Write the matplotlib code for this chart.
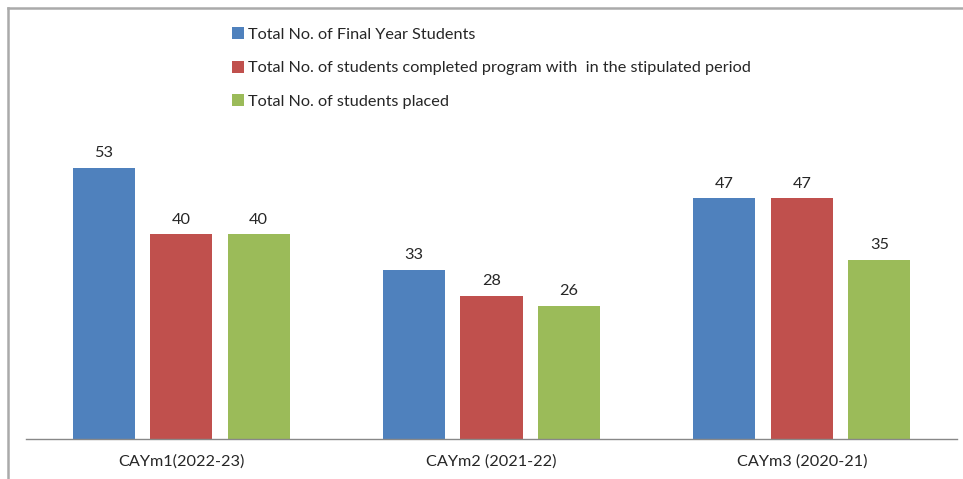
import matplotlib
matplotlib.use("Agg")
import matplotlib.pyplot as plt
import numpy as np
from matplotlib.lines import Line2D

plt.rcParams['font.family'] = ['Lato', 'DejaVu Sans']

years = ["CAYm1(2022-23)", "CAYm2 (2021-22)", "CAYm3 (2020-21)"]
final_year = [53, 33, 47]
completed = [40, 28, 47]
placed = [40, 26, 35]

series_names = ["Total No. of Final Year Students",
                "Total No. of students completed program with  in the stipulated period",
                "Total No. of students placed"]
colors = ["#4F81BD", "#C0504D", "#9BBB59"]
text_col = "#262626"
fs = 11.7

W, H = 963, 479
fig = plt.figure(figsize=(W / 100, H / 100), dpi=100)
ax = fig.add_axes([26 / W, 40 / H, 931 / W, 419 / H])

x = np.arange(len(years))
width = 0.2
offsets = [-0.25, 0, 0.25]
bars = []
for vals, off, c, name in zip([final_year, completed, placed], offsets, colors, series_names):
    b = ax.bar(x + off, vals, width, color=c, label=name)
    bars.append(b)
    for xi, v in zip(x, vals):
        ax.annotate(str(v), (xi + off, v), xytext=(0, 5.5), textcoords="offset points",
                    ha="center", va="bottom", fontsize=fs, color=text_col)

ax.set_xlim(-0.5, 2.5)
ax.set_ylim(0, 419 / 5.12)
ax.set_yticks([])
ax.set_xticks(x)
ax.set_xticklabels(years, fontsize=fs, color=text_col)
ax.tick_params(axis="x", length=0, pad=11)
for s in ["top", "right", "left"]:
    ax.spines[s].set_visible(False)
ax.spines["bottom"].set_color("#888888")
ax.spines["bottom"].set_linewidth(1.0)

fig.legend(handles=bars, loc="upper left", bbox_to_anchor=(232 / W, 1 - 27 / H),
           frameon=False, fontsize=fs, handlelength=0.75, handleheight=0.75,
           handletextpad=0.25, labelspacing=1.17, labelcolor=text_col,
           borderaxespad=0, borderpad=0)

# outer chart frame (only top and left edges fall inside the image)
fig.add_artist(Line2D([8 / W, 1], [1 - 8 / H, 1 - 8 / H], transform=fig.transFigure,
                      color="#AAAAAA", lw=1.8))
fig.add_artist(Line2D([8 / W, 8 / W], [0, 1 - 8 / H], transform=fig.transFigure,
                      color="#AAAAAA", lw=1.8))

fig.savefig("out.png", dpi=100)
